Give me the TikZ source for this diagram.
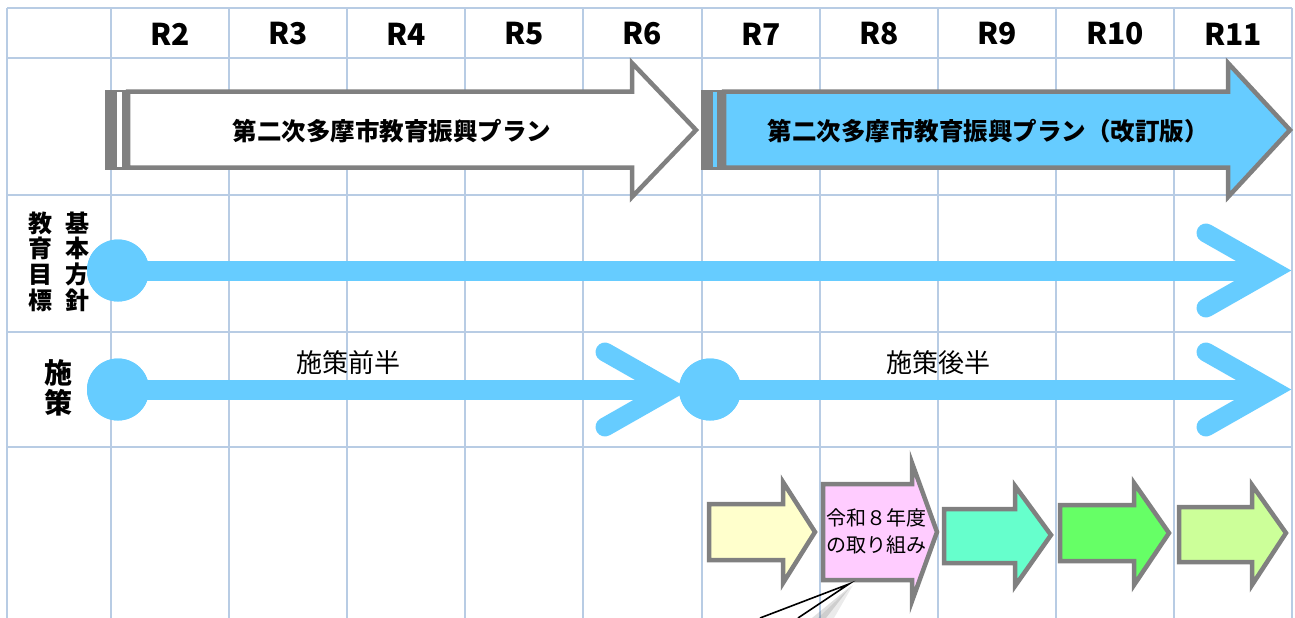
\documentclass[tikz,border=0pt]{standalone}
\usepackage{fontspec}
\setmainfont{Noto Sans CJK JP}
\definecolor{gridc}{HTML}{B8CCE4}
\definecolor{bblue}{HTML}{66CCFF}
\definecolor{agray}{HTML}{808080}
\definecolor{ayellow}{HTML}{FFFFCC}
\definecolor{apink}{HTML}{FFCCFF}
\definecolor{acyan}{HTML}{66FFCC}
\definecolor{agreen}{HTML}{66FF66}
\definecolor{alime}{HTML}{CCFF99}
\begin{document}
\begin{tikzpicture}[x=1pt,y=-1pt,
  gridline/.style={draw=gridc,line width=2},
  hdr/.style={font=\fontsize{30}{30}\selectfont\bfseries,inner sep=0},
  plantext/.style={font=\fontsize{24.5}{24.5}\selectfont\bfseries,inner sep=0},
  rowlab/.style={font=\fontsize{24}{25.6}\selectfont\bfseries,align=center,inner sep=0},
  phase/.style={font=\fontsize{26}{26}\selectfont,inner sep=0},
  dot/.style={circle,fill=bblue,minimum size=62,inner sep=0},
  bline/.style={draw=bblue,line width=20},
  bhead/.style={draw=bblue,line width=19,line cap=round,line join=miter},
  blockarrow/.style={draw=agray,line width=4.5,line join=miter},
  callout/.style={draw=black,line width=1.6}]
\useasboundingbox (0,0) rectangle (1295,618);
\fill[white] (0,0) rectangle (1295,618);
% grid
\foreach \x in {7,111,229,347,465,583,702,820,938,1056,1174,1292}
  \draw[gridline] (\x,8) -- (\x,618);
\foreach \y in {8,58,195,332,447}
  \draw[gridline] (7,\y) -- (1292,\y);
% header
\foreach \i/\x in {2/170,3/288,4/406,5/524,6/642.5,7/761,8/879,9/997,10/1115,11/1233}
  \node[hdr] (h\i) at (\x,34) {R\i};
% plan arrow 1 (white)
\fill[agray] (105,89.5) rectangle (130,169.5);
\fill[white] (117,92) rectangle (122,167);
\draw[blockarrow,fill=white] (128,91.5) -- (632,91.5) -- (632,63) -- (696,130) -- (632,197) -- (632,167.5) -- (128,167.5) -- cycle;
\node[plantext] (plan1) at (392,131) {第二次多摩市教育振興プラン};
% plan arrow 2 (blue)
\fill[agray] (701,89.5) rectangle (726,169.5);
\fill[bblue] (713,92) rectangle (717,167);
\draw[blockarrow,fill=bblue] (724,91.5) -- (1228,91.5) -- (1228,63) -- (1290,130) -- (1228,197) -- (1228,167.5) -- (724,167.5) -- cycle;
\node[plantext] (plan2) at (988,131) {第二次多摩市教育振興プラン（改訂版）};
% row labels
\node[rowlab] (lab1) at (40,261.5) {教\\育\\目\\標};
\node[rowlab] (lab2) at (77,261.5) {基\\本\\方\\針};
\node[rowlab,font=\fontsize{28}{30}\selectfont\bfseries] (lab3) at (58,388) {施\\策};
% blue lines
\coordinate (t1) at (1272,270.5);
\coordinate (t2) at (671,389.5);
\coordinate (t3) at (1272,389.5);
\node[dot] (c1) at (118,270.5) {};
\node[dot] (c2) at (118,389.5) {};
\node[dot] (c3) at (710,389.5) {};
\draw[bline] (c1.center) -- (t1);
\draw[bhead] (t1) ++(-66,-37.5) -- (t1) -- ++(-66,37.5);
\draw[bline] (c2.center) -- (t2);
\draw[bhead] (t2) ++(-66,-37.5) -- (t2) -- ++(-66,37.5);
\draw[bline] (c3.center) -- (t3);
\draw[bhead] (t3) ++(-66,-37.5) -- (t3) -- ++(-66,37.5);
\node[dot] at (c1) {};
\node[dot] at (c2) {};
\node[dot] at (c3) {};
\node[phase] (ph1) at (348,363) {施策前半};
\node[phase] (ph2) at (938,363) {施策後半};
% small arrows
\draw[blockarrow,fill=ayellow] (709,504) -- (783,504) -- (783,482) -- (815,532) -- (783,583) -- (783,560) -- (709,560) -- cycle;
\draw[blockarrow,fill=apink] (823,484) -- (912,484) -- (912,463) -- (937,532) -- (912,601) -- (912,580) -- (823,580) -- cycle;
\draw[blockarrow,fill=acyan] (944,509) -- (1015,509) -- (1015,486) -- (1051,535) -- (1015,586) -- (1015,563) -- (944,563) -- cycle;
\draw[blockarrow,fill=agreen] (1060,505) -- (1134,505) -- (1134,483) -- (1169,533) -- (1134,585) -- (1134,561) -- (1060,561) -- cycle;
\draw[blockarrow,fill=alime] (1179,507) -- (1252,507) -- (1252,485) -- (1286,533) -- (1252,585) -- (1252,562) -- (1179,562) -- cycle;
\node[font=\fontsize{20}{27}\selectfont,align=left,inner sep=0,anchor=west] (pk) at (826,531.5) {令和８年度\\の取り組み};
% callout pointer
\coordinate (cp) at (849,584);
\coordinate (ce1) at (760,618);
\coordinate (ce2) at (798,618);
\fill[black,opacity=0.12] (851,586) -- (812,618) -- (826,618) -- cycle;
\fill[black,opacity=0.08] (853,585) -- (818,618) -- (834,618) -- cycle;
\draw[callout] (ce1) -- (cp) -- (ce2);
\end{tikzpicture}
\end{document}
